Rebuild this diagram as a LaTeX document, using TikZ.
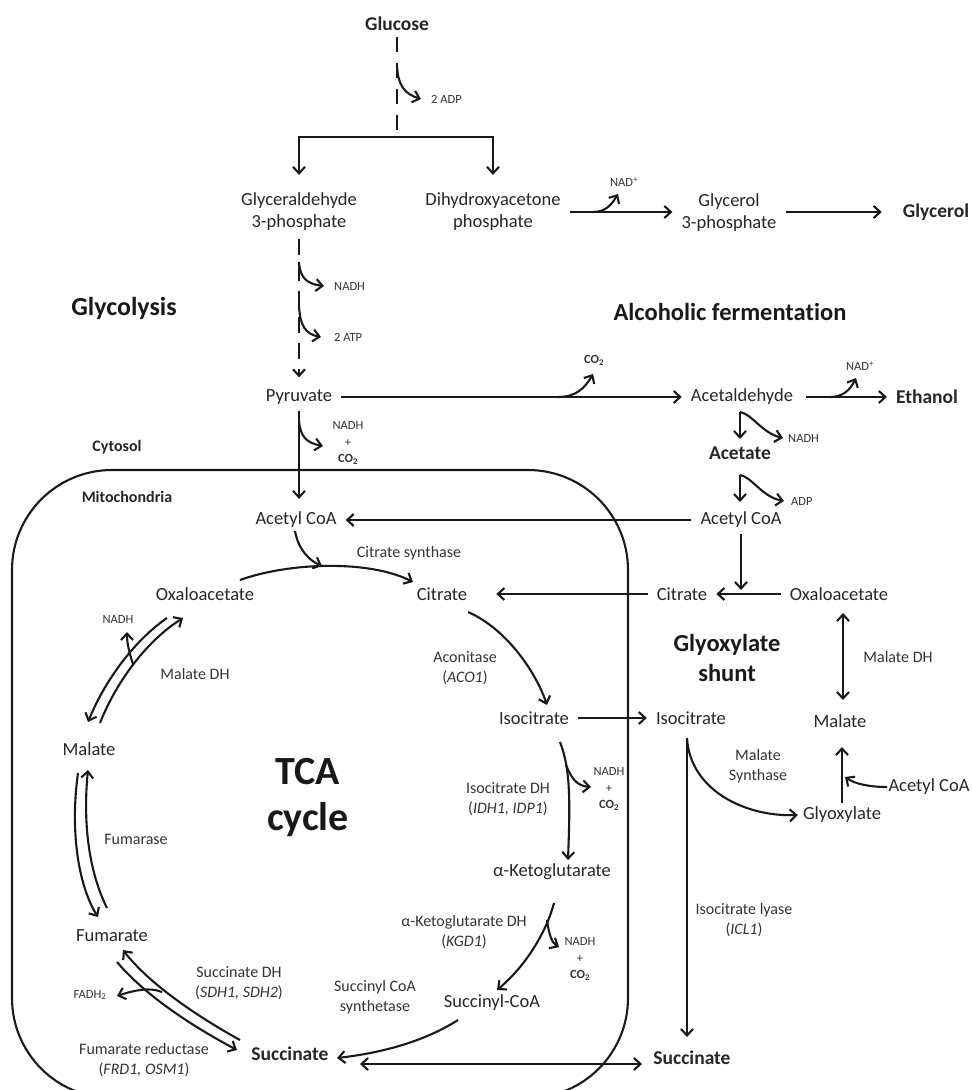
\documentclass[tikz,border=0pt]{standalone}
\usepackage{fontspec}
\setmainfont{Carlito}[Ligatures=NoCommon]
\usetikzlibrary{arrows.meta,calc}

\begin{document}
\begin{tikzpicture}[x=1pt, y=-1pt, >={Straight Barb[length=6.5pt,width=12pt]},
  flow/.style={line width=2.1pt, black!90},
  rxn/.style={flow, ->},
  rev/.style={flow, <->},
  met/.style={font=\fontsize{18.5}{22}\selectfont, text=black!85, align=center, inner xsep=9pt, inner ysep=6pt},
  prod/.style={font=\bfseries\fontsize{19.5}{22}\selectfont, text=black!85, inner xsep=9pt, inner ysep=6pt},
  enz/.style={font=\fontsize{16}{20.5}\selectfont, text=black!80, align=center, inner sep=1pt},
  cof/.style={font=\fontsize{12.5}{16.5}\selectfont, text=black!80, align=center, inner sep=1pt},
  title/.style={font=\bfseries\fontsize{24.5}{30}\selectfont, text=black!90, align=center},
  comp/.style={font=\bfseries\fontsize{16}{18}\selectfont, text=black!85}]
  \useasboundingbox (0,0) rectangle (972,1090);
  \clip (0,0) rectangle (972,1090);

  % mitochondrion
  \draw[flow, rounded corners=100pt] (12,470) rectangle (628,1098);

  % ---------- labels ----------
  \node[prod] (glc) at (397,24) {Glucose};
  \node[cof, anchor=west] (adp1) at (430,99) {2 ADP};
  \node[met] (gap) at (299,212) {Glyceraldehyde\\3-phosphate};
  \node[met] (dhap) at (493,212) {Dihydroxyacetone\\phosphate};
  \node[cof] (nadp1) at (624,182) {NAD\textsuperscript{+}};
  \node[met] (g3p) at (729,213) {Glycerol\\3-phosphate};
  \node[prod] (glyc) at (936,212) {Glycerol};
  \node[title, font=\bfseries\fontsize{26}{30}\selectfont] (glyco) at (124,308) {Glycolysis};
  \node[cof, anchor=west] (nadh1) at (333,286) {NADH};
  \node[cof, anchor=west] (atp) at (333,337) {2 ATP};
  \node[title] (alc) at (730,312) {Alcoholic fermentation};
  \node[met] (pyr) at (299,397) {Pyruvate};
  \node[cof, font=\bfseries\fontsize{12.5}{16.5}\selectfont] (co2a) at (594,360) {CO\textsubscript{2}};
  \node[met] (acald) at (742,397) {Acetaldehyde};
  \node[cof] (nadp2) at (860,366) {NAD\textsuperscript{+}};
  \node[prod] (etoh) at (927,397) {Ethanol};
  \node[cof] (nadh2) at (348,443) {NADH\\+\\\textbf{CO\textsubscript{2}}};
  \node[comp] (cyto) at (117,447) {Cytosol};
  \node[cof, anchor=west] (nadh3) at (787,438) {NADH};
  \node[prod] (acet) at (740,453) {Acetate};
  \node[comp] (mito) at (127,497) {Mitochondria};
  \node[cof, anchor=west] (adp2) at (790,501) {ADP};
  \node[met] (accoa) at (296,520) {Acetyl CoA};
  \node[met] (accoar) at (741,520) {Acetyl CoA};
  \node[enz] (cs) at (409,553) {Citrate synthase};
  \node[met] (oaa) at (205,594) {Oxaloacetate};
  \node[met] (cit) at (442,594) {Citrate};
  \node[met] (citr) at (682,594) {Citrate};
  \node[met] (oaar) at (839,594) {Oxaloacetate};
  \node[cof] (nadh4) at (118,619) {NADH};
  \node[enz] (aco) at (465,668) {Aconitase\\(\textit{ACO1})};
  \node[title] (glx) at (727,658) {Glyoxylate\\shunt};
  \node[enz] (mdhr) at (898,657) {Malate DH};
  \node[enz] (mdhl) at (195,674) {Malate DH};
  \node[met] (icit) at (534,718) {Isocitrate};
  \node[met] (icitr) at (691,718) {Isocitrate};
  \node[met] (malr) at (840,721) {Malate};
  \node[met] (mall) at (89,749) {Malate};
  \node[title, font=\bfseries\fontsize{40}{46}\selectfont] (tca) at (308,798) {TCA\\cycle};
  \node[enz] (ms) at (758,766) {Malate\\Synthase};
  \node[met] (accoa3) at (929,787) {Acetyl CoA};
  \node[met] (glyox) at (842,815) {Glyoxylate};
  \node[enz] (idh) at (508,799) {Isocitrate DH\\(\textit{IDH1, IDP1})};
  \node[cof] (nadh5) at (609,789) {NADH\\+\\\textbf{CO\textsubscript{2}}};
  \node[enz] (fumase) at (136,839) {Fumarase};
  \node[met] (akg) at (552,872) {α-Ketoglutarate};
  \node[enz] (icl) at (744,920) {Isocitrate lyase\\(\textit{ICL1})};
  \node[met] (fum) at (112,936) {Fumarate};
  \node[enz] (kgd) at (464,932) {α-Ketoglutarate DH\\(\textit{KGD1})};
  \node[cof] (nadh6) at (580,959) {NADH\\+\\\textbf{CO\textsubscript{2}}};
  \node[enz] (sdh) at (239,983) {Succinate DH\\(\textit{SDH1, SDH2})};
  \node[enz] (scs) at (375,997) {Succinyl CoA\\synthetase};
  \node[met] (succoa) at (492,1003) {Succinyl-CoA};
  \node[cof] (fadh) at (90,995) {FADH\textsubscript{2}};
  \node[enz] (frd) at (144,1060) {Fumarate reductase\\(\textit{FRD1, OSM1})};
  \node[prod] (succ) at (290,1054) {Succinate};
  \node[prod] (succr) at (692,1058) {Succinate};

  % ---------- glycolysis ----------
  \coordinate (split) at (397,137);
  \draw[flow, dash pattern=on 15pt off 11pt] (glc.south) -- (split);
  \draw[rxn] (397,66) .. controls (398,86) and (405,94) .. ([xshift=-9pt]adp1.west);
  \draw[rxn] (split) -| ([yshift=12pt]gap.north);
  \draw[rxn] (split) -| ([yshift=12pt]dhap.north);
  \draw[rxn, dash pattern=on 16pt off 10pt] ([yshift=-2pt]gap.south) -- ([yshift=6pt]gap.south |- pyr.north);
  \draw[rxn] (299,262) .. controls (300,278) and (307,284) .. ([xshift=-9pt]nadh1.west);
  \draw[rxn] (299,306) .. controls (300,325) and (305,334) .. ([xshift=-12pt]atp.west);

  % glycerol branch
  \draw[rxn] (dhap.east) -- (dhap.east -| g3p.west);
  \draw[rxn] (593,212) .. controls (606,212) and (612,204) .. (618,194);
  \draw[rxn] (g3p.east |- glyc) -- ([xshift=-12pt]glyc.west);

  % ---------- fermentation ----------
  \draw[rxn] (pyr.east) -- (pyr.east -| acald.west);
  \draw[rxn] (558,397) .. controls (576,397) and (585,388) .. (593,374);
  \draw[rxn] ([xshift=4pt]acald.east) -- (etoh.west);
  \draw[rxn] (830,397) .. controls (843,397) and (850,390) .. (856,378);
  \coordinate (b3) at (740,412);
  \draw[rxn] (b3) -- (740,439);
  \draw[rxn] (b3) .. controls (752,414) and (762,433) .. ([xshift=-4pt]nadh3.west);
  \coordinate (b4) at (740,475);
  \draw[rxn] (b4) -- (740,502);
  \draw[rxn] (b4) .. controls (752,477) and (762,497) .. ([xshift=-6pt]adp2.west);
  \draw[rxn] (accoar.west) -- (accoar.west -| accoa.east);
  \draw[rxn] (accoar.south) -- ([yshift=4pt]accoar.south |- oaar);
  \draw[rxn] (oaar.west) -- (oaar.west -| citr.east);
  \draw[rxn] (citr.west) -- ([xshift=20pt]citr.west -| cit.east);

  % ---------- pyruvate to TCA ----------
  \draw[rxn] (pyr.south) -- ([yshift=7pt]pyr.south |- accoa.north);
  \draw[rxn] (299,420) .. controls (300,437) and (307,443) .. (323,446);

  % ---------- TCA cycle ----------
  \draw[rxn] (240,580) .. controls (290,562) and (370,560) .. (413,582);
  \draw[rxn] (295,531) .. controls (298,548) and (308,560) .. (322,566);
  \draw[rxn] (468,612) .. controls (505,628) and (535,670) .. (547,705);
  \draw[rxn] (icit.east) -- (icit.east -| icitr.west);
  \draw[rxn] (560,742) .. controls (571,770) and (570,805) .. (568,860);
  \draw[rxn] (566,765) .. controls (572,780) and (578,786) .. (591,787);
  \draw[rxn] (554,903) .. controls (547,930) and (527,965) .. (497,990);
  \draw[rxn] (547,920) .. controls (549,935) and (552,943) .. (559,947);
  \draw[rxn] (458,1020) .. controls (430,1038) and (390,1052) .. (337,1058);
  \draw[rev] (360,1064) -- (642,1064);

  \draw[rxn] (167,618) .. controls (135,640) and (105,680) .. (88,722);
  \draw[rxn] (100,723) .. controls (117,680) and (148,640) .. (183,618);
  \draw[rxn] (133,664) .. controls (129,652) and (127,643) .. (127,632);
  \draw[rxn] (78,773) .. controls (70,830) and (78,885) .. (98,917);
  \draw[rxn] (107,908) .. controls (88,870) and (83,820) .. (88,770);
  \draw[rxn] (240,1040) .. controls (200,1018) and (150,985) .. (123,950);
  \draw[rxn] (117,962) .. controls (145,995) and (190,1025) .. (237,1050);
  \draw[rxn] (162,992) .. controls (150,987) and (135,990) .. (117,996);

  % ---------- glyoxylate shunt ----------
  \draw[rxn] (687,738) -- (687,1037);
  \draw[rxn] (687,738) .. controls (690,790) and (745,817) .. ([xshift=4pt]glyox.west);
  \draw[rxn] (842,803) -- (842,747);
  \draw[rxn] (887,787) .. controls (870,787) and (855,784) .. (845,777);
  \draw[rev] (843,613) -- (843,700);
\end{tikzpicture}
\end{document}
